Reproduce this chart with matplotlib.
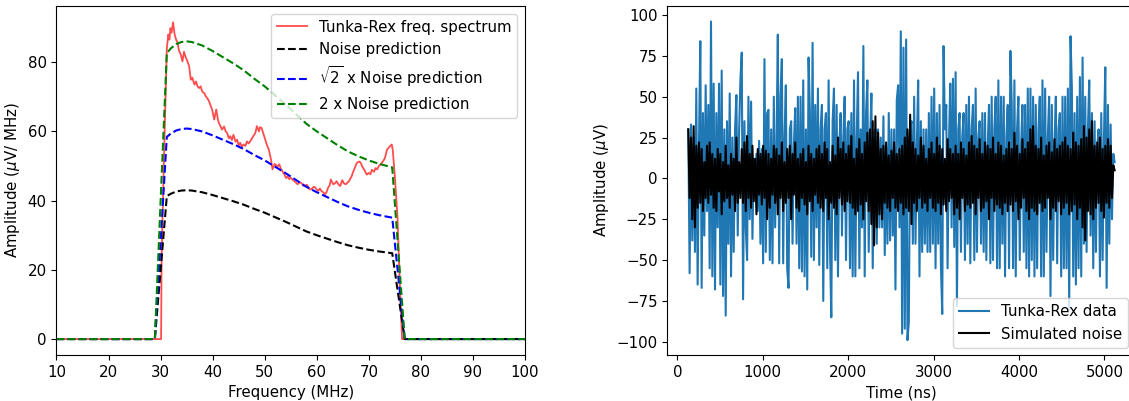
import numpy as np
import matplotlib
matplotlib.use("Agg")
import matplotlib.pyplot as plt

plt.rcParams['font.size'] = 10.8

# ---- left panel: frequency spectrum (MHz, uV/MHz) ----
red_freq = [10, 30.1, 30.2, 30.7, 31.2, 31.5, 31.7, 31.9, 32.1, 32.4,
            32.7, 33.0, 33.3, 33.5, 33.9, 34.2, 34.5, 34.8, 35.1, 35.5,
            35.8, 36.1, 36.5, 36.8, 37.1, 37.4, 37.7, 38.0, 38.4, 38.7,
            39.0, 39.3, 39.6, 39.9, 40.3, 40.7, 41.0, 41.2, 41.5, 41.8,
            42.2, 42.5, 42.8, 43.1, 43.4, 43.7, 44.0, 44.4, 44.7, 45.0,
            45.3, 45.6, 45.9, 46.3, 46.6, 46.9, 47.2, 47.5, 47.8, 48.2,
            48.5, 48.9, 49.1, 49.4, 49.9, 50.4, 50.8, 51.2, 51.5, 51.9,
            52.2, 52.5, 52.8, 53.1, 53.5, 53.8, 54.1, 54.4, 54.7, 55.0,
            55.4, 55.7, 56.0, 56.3, 56.7, 57.1, 57.4, 57.7, 58.1, 58.4,
            58.7, 59.0, 59.4, 59.7, 60.0, 60.3, 60.6, 60.9, 61.3, 61.6,
            61.9, 62.2, 62.5, 62.7, 63.0, 63.2, 63.5, 63.8, 64.2, 64.5,
            64.9, 65.2, 65.6, 65.9, 66.2, 66.5, 66.7, 67.0, 67.3, 67.7,
            68.2, 68.5, 68.7, 69.0, 69.3, 69.6, 70.0, 70.3, 70.6, 71.0,
            71.3, 71.6, 71.9, 72.2, 72.5, 72.8, 73.1, 73.5, 74.0, 74.4,
            74.6, 75.0, 75.5, 75.8, 76.1, 76.4, 100]
red_amp = [0, 0, 24, 55, 84, 88, 86.5, 89.8, 88.5, 91.5,
           88, 86.4, 85.5, 83.5, 82.1, 80.2, 83, 81.5, 80.5, 78.7,
           74.9, 75.5, 73.5, 74.4, 73, 72.5, 73, 71.5, 71, 70.1,
           69.5, 68.7, 67.5, 66.3, 63.4, 66.3, 63.5, 62.4, 61.5, 60.5,
           61.4, 60, 59.5, 58, 58.6, 57.5, 59, 57, 57.6, 56,
           56.7, 55.5, 56.2, 55.8, 57.1, 56.5, 57.1, 57.8, 58.6, 59.5,
           61.5, 60.0, 61.2, 61, 58.6, 56.2, 54.7, 51.9, 49, 50.6,
           50.2, 49.9, 50.5, 49.2, 48.2, 47.5, 46.5, 47.0, 46.2, 46.6,
           46.0, 45.6, 45.2, 44.7, 45.3, 45, 44.3, 44.2, 44.6, 43.8,
           43.2, 43.3, 44.0, 43.8, 43.2, 42.8, 43.5, 42.8, 42.3, 41.8,
           42.5, 43.8, 44.5, 46.1, 45.2, 44.7, 45.0, 45.6, 44.6, 44.2,
           45.9, 45.0, 44.7, 45.2, 45.6, 46.5, 47, 48.3, 49.4, 50.9,
           51.3, 50.8, 49.9, 49.2, 48.4, 47.5, 48, 47.6, 48.9, 48.3,
           49.4, 49.0, 49.9, 50.4, 50.9, 51.5, 52.3, 54.7, 55.6, 56.2,
           54.7, 47, 35.5, 23, 10, 0, 0]

noise_freq = [10, 28.9, 31.2, 32, 33, 34, 35, 36, 38, 40, 42, 44, 46, 48, 50,
              52, 54, 56, 58, 60, 62, 64, 66, 68, 70, 72, 74.5, 76.9, 100]
noise_pred = [0, 0, 41.3, 42.0, 42.6, 42.9, 43.0, 42.9, 42.4, 41.6, 40.7, 39.8,
              38.8, 37.6, 36.5, 35.2, 33.9, 32.5, 31.1, 30.0, 29.0, 28.0, 27.1,
              26.4, 25.8, 25.3, 24.8, 0, 0]

# ---- right panel: time traces (ns, uV) ----
blue_amp = [
    30, -58, 33, -38, 25, -45, 55, -65, 20, 84, -67, 40, -35, 57, -20, 45, -55, 96, -60, 58,
    -68, 40, -30, 58, -65, 66, -72, 30, -84, 35, -40, 52, -60, 25, -45, 30, 51, -35, 28, 60,
    77, -74, 35, -30, -50, 50, -25, 47, -37, 12, -8, 15, -20, 23, -40, 18, -52, 73, -45, 40,
    42, -50, 30, -52, 50, -30, 20, 88, -52, 50, 73, -52, 25, 57, -55, -67, 30, 35, -40, 20,
    43, -40, 50, -55, 50, -57, 60, -60, 30, -68, 74, 40, -48, 83, -50, 45, -30, 55, -53, 30,
    45, -75, 30, 40, -55, 60, -40, -85, 35, 55, -50, 45, -60, 20, 40, -35, 25, 50, -50, 30,
    35, -55, 40, -60, 60, -60, 25, 65, -55, 30, -30, 81, -60, 40, 60, -45, 20, 52, -55, 15,
    30, -40, 30, -30, 25, -30, 38, -47, 20, -40, 40, -38, 30, -35, 30, -68, 48, 57, -30, 90,
    -95, 80, -92, 85, -99, -88, 30, 35, -40, 50, -40, 20, 60, -60, 35, -45, 30, -40, 30, -45,
    40, -45, 50, -40, 55, -55, 40, -40, 45, -52, -83, 81, 30, 45, -55, 20, 58, -30, 61, -42,
    65, -78, 30, 40, -45, 25, 40, -50, 45, -40, 50, -52, 30, 45, -50, 55, -45, 25, 35, -40,
    40, -45, 40, -50, 20, 45, -52, 50, -50, 30, 50, -55, 60, -55, 50, -40, 50, -60, 25, 45,
    -55, 78, 45, -55, 60, -60, 30, 50, -50, 20, 45, -45, 45, -55, 55, -60, 55, -50, 50, -60,
    45, -55, 30, 50, -60, 60, -60, 55, -45, 25, 50, -72, 45, -50, 20, 50, -52, 30, 40, -60,
    50, -55, 50, -55, 55, -80, 87, 55, -60, 40, -65, 50, -55, 62, -60, 74, -40, 50, -45, 30,
    60, -35, 40, -55, 35, -45, 20, 30, -60, 40, -50, 25, 68, -67, 45, -40, 33, -25, 15, 10,
]
black_amp = [
    30, -12, 25, -25, 32, -30, 20, -18, 22, -15, 18, -20, 10, -12, 20, -15, 22, -10, 15, -18,
    12, -20, 18, -8, 15, -22, 10, -14, 20, -12, 8, -18, 15, -10, 12, -20, 25, -15, 10, -12,
    18, -15, 22, -20, 26, -12, 15, -18, 20, -14, 12, -22, 18, -10, 15, -16, 20, -12, 17, -25,
    15, -18, 12, -10, 20, -15, 18, -22, 14, -12, 22, -20, 10, -15, 18, -12, 20, -25, 15, -10,
    22, -18, 12, -20, 15, -12, 18, -16, 10, -22, 20, -14, 15, -20, 12, -10, 18, -15, 20, -18,
    15, -20, 22, -12, 18, -25, 10, -15, 20, -18, 14, -22, 25, -12, 18, -16, 22, -20, 15, -14,
    20, -15, 26, -18, 12, -22, 18, -20, 24, -16, 15, -25, 22, -14, 28, -20, 30, -28, 35, -41,
    38, -30, 28, -22, 18, -25, 20, -15, 22, -18, 14, -20, 17, -12, 22, -18, 15, -20, 18, -15,
    20, -22, 25, -18, 30, -20, 39, -28, 22, -15, 18, -20, 14, -12, 25, -18, 20, -15, 12, -20,
    18, -12, 22, -18, 15, -20, 25, -15, 20, -22, 18, -16, 12, -20, 24, -14, 18, -12, 15, -22,
    20, -18, 15, -25, 22, -12, 18, -20, 14, -16, 22, -18, 26, -15, 20, -22, 18, -12, 24, -20,
    15, -18, 22, -14, 20, -25, 18, -12, 25, -20, 15, -16, 22, -18, 20, -22, 14, -15, 18, -20,
    22, -16, 18, -20, 28, -14, 20, -25, 15, -18, 24, -12, 18, -20, 22, -25, 30, -18, 32, -20,
    20, -22, 18, -15, 25, -20, 14, -18, 20, -12, 22, -25, 16, -18, 24, -20, 18, -14, 20, -22,
    22, -18, 25, -15, 20, -22, 18, -20, 28, -16, 22, -25, 20, -18, 24, -30, 32, -38, 25, -20,
    30, -22, 35, -25, 20, -18, 22, -15, 25, -20, 18, -24, 20, -15, 24, -18, 20, -12, 8, 5,
]
t_start, t_end = 128, 5120
blue_t = np.linspace(t_start, t_end, len(blue_amp))
black_t = np.linspace(t_start, t_end, len(black_amp))

fig = plt.figure(figsize=(11.29, 4.01), dpi=100)
ax1 = fig.add_axes([0.0500, 0.1147, 0.4150, 0.8703])
ax2 = fig.add_axes([0.5911, 0.1147, 0.4151, 0.8703])

noise = np.array(noise_pred)
ax1.plot(red_freq, red_amp, color='red', alpha=0.7, lw=1.3, label='Tunka-Rex freq. spectrum')
ax1.plot(noise_freq, noise, 'k--', label='Noise prediction')
ax1.plot(noise_freq, np.sqrt(2) * noise, 'b--', label=r'$\sqrt{2}$ x Noise prediction')
ax1.plot(noise_freq, 2 * noise, 'g--', label='2 x Noise prediction')
ax1.set_xlim(10, 100)
ax1.set_ylim(-4.6, 96.2)
ax1.set_xlabel('Frequency (MHz)')
ax1.set_ylabel(r'Amplitude ($\mu$V/ MHz)')
ax1.legend(loc='upper right')

ax2.plot(blue_t, blue_amp, color='C0', label='Tunka-Rex data')
ax2.plot(black_t, black_amp, color='k', label='Simulated noise')
ax2.set_xlim(-117, 5370)
ax2.set_ylim(-108.1, 105.5)
ax2.set_xlabel('Time (ns)')
ax2.set_ylabel(r'Amplitude ($\mu$V)')
ax2.legend(loc='lower right')

fig.savefig('out.png', dpi=100)
